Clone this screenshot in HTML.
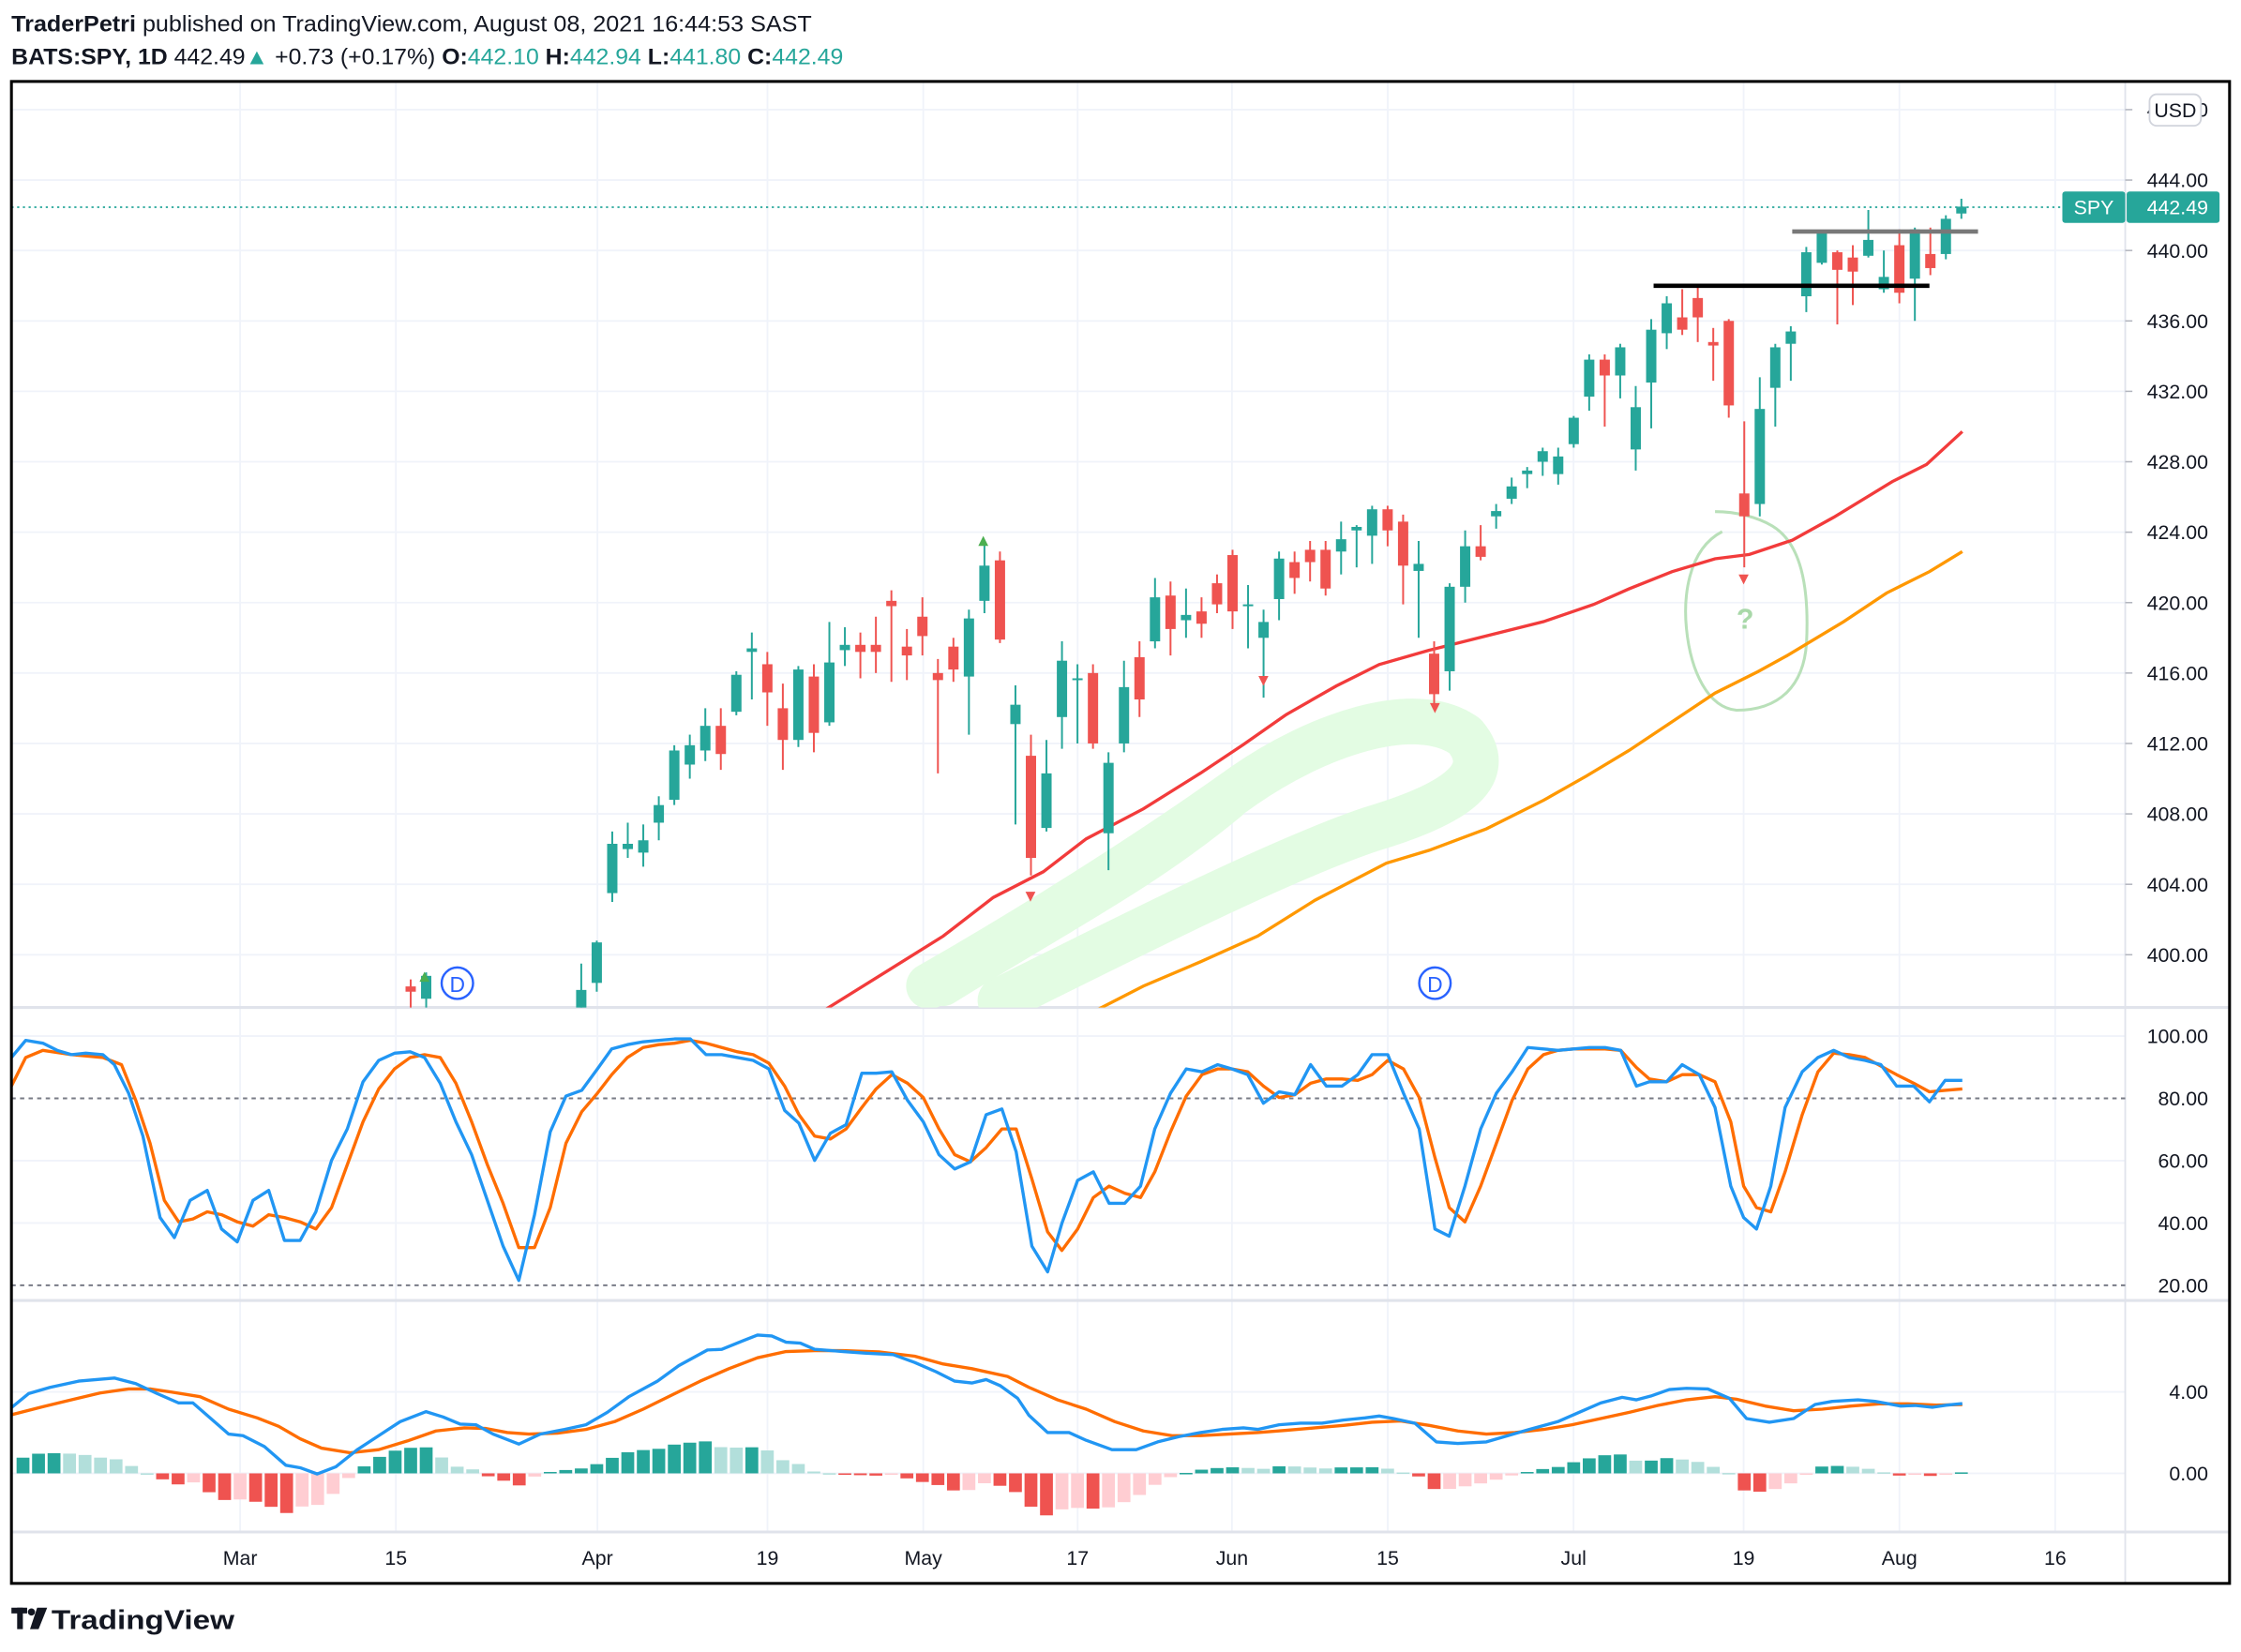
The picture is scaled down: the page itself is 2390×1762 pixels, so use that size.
<!DOCTYPE html>
<html><head><meta charset="utf-8"><style>
html,body{margin:0;padding:0;background:#fff;}
svg{display:block;}
text{font-family:"Liberation Sans",sans-serif;}
</style></head><body>
<svg id="s" width="2390" height="1762" viewBox="0 0 1568 1156" preserveAspectRatio="none" xmlns="http://www.w3.org/2000/svg">
<rect width="1568" height="1156" fill="#fff"/>
<text x="8" y="22" font-size="15.5" fill="#131722" textLength="560" lengthAdjust="spacingAndGlyphs"><tspan font-weight="bold">TraderPetri</tspan> published on TradingView.com, August 08, 2021 16:44:53 SAST</text>
<text x="8" y="45" font-size="15.5" fill="#131722" textLength="582" lengthAdjust="spacingAndGlyphs"><tspan font-weight="bold">BATS:SPY, 1D</tspan> 442.49<tspan fill="#26a69a">▲</tspan> +0.73 (+0.17%) <tspan font-weight="bold">O:</tspan><tspan fill="#26a69a">442.10</tspan> <tspan font-weight="bold">H:</tspan><tspan fill="#26a69a">442.94</tspan> <tspan font-weight="bold">L:</tspan><tspan fill="#26a69a">441.80</tspan> <tspan font-weight="bold">C:</tspan><tspan fill="#26a69a">442.49</tspan></text>
<g id="grid"></g>
<g id="main"></g>
<g id="axis"></g>
<rect x="8" y="57" width="1552" height="1051" fill="none" stroke="#000" stroke-width="2"/>
<!-- logo -->
<g fill="#131722"><rect x="8" y="1125" width="11" height="4"/><rect x="12" y="1125" width="4" height="15"/><circle cx="22" cy="1128" r="2.5"/><polygon points="26,1125 33,1125 27,1140 21,1140"/></g>
<text x="36" y="1140" font-size="19" font-weight="bold" fill="#131722" textLength="128" lengthAdjust="spacingAndGlyphs">TradingView</text>
</svg>
<script>
const NS="http://www.w3.org/2000/svg";
function el(p,t,a,txt){const e=document.createElementNS(NS,t);for(const k in a)e.setAttribute(k,a[k]);if(txt!==undefined)e.textContent=txt;p.appendChild(e);return e;}
const G=document.getElementById('grid'),M=document.getElementById('main'),A=document.getElementById('axis');
const X=i=>168+i*10.85, PY=p=>126+(444-p)*12.32, SY=v=>725+(100-v)*2.18;
// grids
[277,418,537,646,754,862,971,1101,1220,1329,1438,168].forEach(x=>el(G,'line',{x1:x,y1:58,x2:x,y2:1072,stroke:'#f0f3fa','stroke-width':1.2}));
for(let p=400;p<=448;p+=4)el(G,'line',{x1:8,y1:PY(p),x2:1487,y2:PY(p),stroke:'#f0f3fa','stroke-width':1.2});
[100,60,40].forEach(v=>el(G,'line',{x1:8,y1:SY(v),x2:1487,y2:SY(v),stroke:'#f0f3fa','stroke-width':1.2}));
[974,1031].forEach(y=>el(G,'line',{x1:8,y1:y,x2:1487,y2:y,stroke:'#f0f3fa','stroke-width':1.2}));
[705,910,1072].forEach(y=>el(G,'line',{x1:8,y1:y,x2:1560,y2:y,stroke:'#e0e3eb','stroke-width':2}));
el(G,'line',{x1:1487,y1:58,x2:1487,y2:1108,stroke:'#e0e3eb','stroke-width':1.2});
[80,20].forEach(v=>el(G,'line',{x1:8,y1:SY(v),x2:1487,y2:SY(v),stroke:'#787b86','stroke-width':1.3,'stroke-dasharray':'3,3'}));
// clip for main pane
const defs=el(M,'defs',{});const cp=el(defs,'clipPath',{id:'cm'});el(cp,'rect',{x:8,y:58,width:1479,height:647});
const cp2=el(defs,'clipPath',{id:'cs'});el(cp2,'rect',{x:8,y:706,width:1479,height:204});
const cp3=el(defs,'clipPath',{id:'cc'});el(cp3,'rect',{x:8,y:911,width:1479,height:161});
const MG=el(M,'g',{'clip-path':'url(#cm)'});
// green brush
el(MG,'path',{d:'M650,690 C720,650 800,600 870,550 C920,515 990,490 1025,515 C1050,545 1010,565 960,580 C900,600 800,650 700,700',fill:'none',stroke:'#e3fce3','stroke-width':32,'stroke-linecap':'round','stroke-linejoin':'round'});
el(MG,'path',{d:'M660,690 C740,640 800,610 860,560',fill:'none',stroke:'#e3fce3','stroke-width':28,'stroke-linecap':'round'});
// circle
el(MG,'path',{d:'M1205,372 C1180,385 1178,420 1180,440 C1183,470 1195,495 1215,497 C1245,497 1262,480 1264,450 C1266,410 1260,380 1240,368 C1230,362 1215,358 1200,358',fill:'none',stroke:'#b9e0b9','stroke-width':2});
el(MG,'text',{x:1215,y:440,'font-size':20,'font-weight':'bold',fill:'#a8d8a8'},'?');
// MAs
const ema=[[575,708],[620,680],[660,655],[695,628],[730,610],[760,587],[800,566],[840,541],[870,521],[900,500],[935,480],[965,465],[1000,455],[1040,445],[1080,435],[1115,423],[1140,412],[1170,400],[1200,391],[1224,388],[1254,378],[1283,362],[1324,337],[1348,325],[1373,302]];
const sma=[[765,708],[800,690],[840,673],[880,655],[920,630],[970,604],[1000,595],[1040,580],[1080,560],[1110,543],[1140,525],[1170,505],[1200,485],[1230,470],[1250,459],[1290,435],[1320,415],[1350,400],[1373,386]];
const pl=a=>a.map(p=>p.join(',')).join(' ');
el(MG,'polyline',{points:pl(ema),fill:'none',stroke:'#f23b3b','stroke-width':2.2});
el(MG,'polyline',{points:pl(sma),fill:'none',stroke:'#ff9800','stroke-width':2.2});
// candles [i,o,h,l,c]
const C=[[11,398.2,398.6,396,397.9],[12,397.5,399,396.5,398.8],[22,396,399.5,395,398],
[23,398.4,400.8,397.9,400.7],[24,403.5,407,403,406.3],[25,406,407.5,405.5,406.3],[26,405.8,407.4,405,406.5],[27,407.5,409,406.5,408.5],[28,408.8,411.9,408.5,411.6],
[29,410.8,412.5,410,411.9],[30,411.6,414,411,413],[31,413,414,410.5,411.4],[32,413.8,416.1,413.6,415.9],[33,417.2,418.3,414.5,417.4],
[34,416.5,417.2,413,414.9],[35,414,415.4,410.5,412.2],[36,412.2,416.4,411.8,416.2],[37,415.8,416.5,411.5,412.6],[38,413.2,418.9,413,416.6],
[39,417.3,418.6,416.4,417.6],[40,417.6,418.3,415.7,417.2],[41,417.6,419.2,416,417.2],[42,420.1,420.7,415.5,419.8],[43,417.5,418.5,415.6,417],
[44,419.2,420.3,417,418.1],[45,416,416.8,410.3,415.6],[46,417.5,418,415.5,416.2],[47,415.8,419.6,412.5,419.1],[48,420.1,423.4,419.4,422.1],
[49,422.4,422.9,417.7,417.9],[50,413.1,415.3,407.4,414.2],[51,411.3,412.5,404.5,405.5],[52,407.2,412.2,407,410.3],[53,413.5,417.8,411.7,416.7],
[54,415.6,416.5,412,415.7],[55,416,416.5,411.7,412],[56,406.9,411.5,404.8,410.9],[57,412,416.7,411.5,415.2],[58,416.9,417.8,413.5,414.5],
[59,417.8,421.4,417.4,420.3],[60,420.4,421.2,417,418.5],[61,419,420.8,418,419.3],[62,419.5,420.3,418,418.8],[63,421.1,421.6,419.4,419.9],
[64,422.7,423,418.5,419.5],[65,419.8,421,417.4,419.9],[66,418,419.6,414.6,418.9],[67,420.2,422.9,419,422.5],
[68,422.3,422.9,420.5,421.4],[69,423,423.5,421.2,422.3],[70,423,423.5,420.4,420.8],[71,422.9,424.6,421.6,423.6],[72,424.1,424.4,422,424.3],
[73,423.8,425.5,422.2,425.3],[74,425.3,425.5,423.2,424.1],[75,424.6,425,419.9,422.1],[76,421.8,423.5,418,422.2],[77,417.1,417.8,414.2,414.8],
[78,416.1,421.1,415,420.9],[79,420.9,424.1,420,423.2],[80,423.2,424.4,422.4,422.6],[81,424.9,425.6,424.2,425.2],[82,425.9,427.1,425.6,426.6],
[83,427.3,427.7,426.5,427.5],[84,428,428.8,427.2,428.6],[85,427.3,428.8,426.7,428.3],
[86,429,430.6,428.8,430.5],[87,431.7,434.1,430.9,433.8],[88,433.8,434.1,430,432.9],[89,432.9,434.7,431.6,434.5],[90,428.7,432.3,427.5,431.1],[91,432.5,436.1,429.9,435.5],
[92,435.3,437.4,434.4,437],[93,436.2,437.8,435.2,435.5],[94,437.3,438,434.8,436.2],[95,434.8,435.6,432.6,434.6],[96,436,436.1,430.5,431.2],
[97,426.2,430.3,422,424.9],[98,425.6,432.8,424.9,431],[99,432.2,434.7,430,434.5],[100,434.7,435.7,432.6,435.4],[101,437.4,440.2,436.5,439.9],
[102,439.3,441,439.2,441],[103,439.9,440,435.8,438.9],[104,439.6,440.3,436.9,438.8],[105,439.7,442.3,439.6,440.6],[106,437.8,440,437.6,438.5],
[107,440.3,441.2,437,437.6],[108,438.4,441.3,436,441.2],[109,439.8,441.3,438.6,439],[110,439.8,442,439.5,441.8],[111,442.1,442.94,441.8,442.49]];
C.forEach(([i,o,h,l,c])=>{const x=X(i),col=c>=o?'#26a69a':'#ef5350';
el(MG,'line',{x1:x,y1:PY(h),x2:x,y2:PY(l),stroke:col,'stroke-width':1.3});
const y1=PY(Math.max(o,c)),y2=PY(Math.min(o,c));el(MG,'rect',{x:x-3.6,y:y1,width:7.2,height:Math.max(1.3,y2-y1),fill:col});});
// lines
el(MG,'line',{x1:1157,y1:200,x2:1350,y2:200,stroke:'#000','stroke-width':3});
el(MG,'line',{x1:1254,y1:162,x2:1384,y2:162,stroke:'#787878','stroke-width':3});
el(MG,'line',{x1:8,y1:145,x2:1487,y2:145,stroke:'#26a69a','stroke-width':1.2,'stroke-dasharray':'1.5,2.5'});
// markers
[[297,683],[688,378]].forEach(([x,y])=>el(MG,'polygon',{points:`${x-3.5},${y+4} ${x+3.5},${y+4} ${x},${y-3}`,fill:'#4caf50'}));
[[721,627],[884,476],[1004,495],[1220,405]].forEach(([x,y])=>el(MG,'polygon',{points:`${x-3.5},${y-3} ${x+3.5},${y-3} ${x},${y+4}`,fill:'#ef5350'}));
[320,1004].forEach(x=>{el(MG,'circle',{cx:x,cy:688,r:11,fill:'#fff',stroke:'#2962ff','stroke-width':1.6});el(MG,'text',{x:x,y:694,'font-size':15,'text-anchor':'middle',fill:'#2962ff'},'D');});
// stoch
const K=[[8,740],[18,728],[30,730],[40,735],[50,738],[60,737],[72,738],[80,745],[90,765],[100,795],[112,852],[122,866],[133,840],[145,833],[155,860],[166,869],[177,840],[188,833],[199,868],[210,868],[221,848],[232,812],[243,790],[254,757],[265,742],[276,737],[287,736],[297,740],[308,758],[319,785],[330,808],[341,840],[352,872],[363,896],[374,850],[385,792],[396,767],[407,763],[418,748],[428,734],[439,731],[450,729],[461,728],[472,727],[483,727],[494,738],[505,738],[516,740],[527,742],[538,748],[549,777],[559,786],[570,812],[581,793],[592,787],[603,751],[613,751],[624,750],[635,770],[646,785],[657,808],[668,818],[679,813],[690,780],[701,776],[711,806],[722,872],[733,890],[743,856],[754,826],[765,820],[776,842],[787,842],[798,830],[808,790],[819,765],[830,748],[841,750],[852,745],[862,748],[873,752],[884,772],[895,764],[906,766],[917,745],[928,760],[939,760],[950,752],[960,738],[971,738],[982,765],[993,790],[1004,860],[1014,865],[1025,830],[1036,790],[1047,765],[1058,750],[1069,733],[1080,734],[1090,735],[1101,734],[1112,733],[1123,733],[1134,735],[1145,760],[1154,757],[1166,757],[1177,745],[1189,752],[1200,775],[1211,830],[1220,852],[1229,860],[1239,830],[1249,775],[1261,750],[1272,740],[1283,735],[1294,740],[1305,742],[1316,745],[1327,760],[1339,760],[1350,771],[1361,756],[1373,756]];
const D=[[8,760],[18,740],[30,735],[50,738],[72,740],[85,745],[95,770],[105,800],[115,840],[125,855],[135,853],[145,848],[155,850],[166,855],[177,858],[188,850],[199,852],[210,855],[221,860],[232,845],[243,815],[254,785],[265,762],[276,748],[287,740],[297,738],[308,740],[319,758],[330,785],[341,815],[352,842],[363,873],[374,873],[385,845],[396,800],[407,778],[418,765],[428,752],[439,740],[450,733],[461,731],[472,730],[483,728],[494,730],[505,733],[516,736],[527,738],[538,744],[549,760],[559,780],[570,795],[581,797],[592,790],[603,775],[613,762],[624,752],[635,758],[646,768],[657,790],[668,808],[679,813],[690,803],[701,790],[711,790],[722,825],[733,862],[743,875],[754,860],[765,838],[776,830],[787,835],[798,838],[808,820],[819,792],[830,767],[841,752],[852,748],[862,748],[873,750],[884,760],[895,768],[906,766],[917,758],[928,755],[939,755],[950,756],[960,752],[971,742],[982,748],[993,768],[1004,810],[1014,845],[1025,855],[1036,830],[1047,800],[1058,770],[1069,748],[1080,738],[1090,735],[1101,734],[1112,734],[1123,734],[1134,735],[1145,747],[1154,755],[1166,757],[1177,752],[1189,752],[1200,757],[1211,785],[1220,830],[1229,845],[1239,848],[1249,820],[1261,780],[1272,750],[1283,737],[1294,738],[1305,740],[1316,746],[1327,752],[1339,758],[1350,764],[1361,763],[1373,762]];
const SG=el(M,'g',{'clip-path':'url(#cs)'});
el(SG,'polyline',{points:pl(D),fill:'none',stroke:'#ff6d00','stroke-width':2.2,'stroke-linejoin':'round'});
el(SG,'polyline',{points:pl(K),fill:'none',stroke:'#2196f3','stroke-width':2.2,'stroke-linejoin':'round'});
// macd
const cv=a=>a.map(([x,y])=>[x,885.8+y*0.218]);
const MB=cv([[8,455],[20,410],[35,390],[55,370],[80,360],[95,378],[110,410],[125,440],[135,440],[160,540],[170,545],[185,580],[200,640],[210,648],[222,668],[235,645],[250,590],[265,545],[280,500],[298,468],[310,485],[322,508],[333,510],[345,540],[363,572],[378,540],[395,525],[410,510],[425,470],[440,420],[460,370],[475,320],[495,270],[505,268],[520,240],[530,222],[540,225],[550,245],[560,248],[570,268],[590,275],[605,280],[625,285],[640,310],[655,340],[668,370],[680,376],[690,365],[700,385],[712,425],[720,480],[733,535],[748,535],[760,560],[778,590],[795,590],[810,565],[825,548],[840,535],[855,525],[870,520],[880,525],[895,510],[910,505],[925,505],[940,495],[955,488],[965,482],[975,490],[990,505],[1005,565],[1020,570],[1040,565],[1055,545],[1070,525],[1090,500],[1105,470],[1120,440],[1135,422],[1145,430],[1155,418],[1168,397],[1180,393],[1195,395],[1210,425],[1222,490],[1238,502],[1255,490],[1270,445],[1282,435],[1300,430],[1312,435],[1330,450],[1340,448],[1352,454],[1362,447],[1373,442]]);
const MO=cv([[8,478],[30,452],[50,430],[70,408],[90,395],[105,395],[120,405],[140,420],[160,460],[180,488],[195,515],[210,555],[225,585],[245,600],[265,590],[285,562],[305,530],[325,520],[340,522],[355,535],[370,540],[390,537],[410,525],[430,500],[450,460],[470,415],[490,370],[510,330],[530,295],[550,275],[570,272],[590,272],[615,276],[640,290],[660,315],[680,330],[705,355],[720,390],[740,430],[760,460],[780,500],[800,530],[820,545],[840,545],[860,540],[880,535],[900,528],[920,520],[940,512],[960,502],[980,498],[1000,512],[1020,530],[1040,540],[1060,535],[1080,525],[1100,510],[1120,490],[1140,470],[1160,448],[1180,430],[1200,420],[1215,428],[1235,450],[1255,465],[1275,460],[1295,450],[1315,443],[1335,443],[1355,447],[1373,445]]);
function interp(a,x){for(let k=0;k<a.length-1;k++){if(x>=a[k][0]&&x<=a[k+1][0]){const t=(x-a[k][0])/(a[k+1][0]-a[k][0]);return a[k][1]+t*(a[k+1][1]-a[k][1]);}}return x<a[0][0]?a[0][1]:a[a.length-1][1];}
const CG=el(M,'g',{'clip-path':'url(#cc)'});
let prev=null;
for(let i=-14;i<=111;i++){const x=X(i);const h=(interp(MO,x)-interp(MB,x))*1.15;let col;
if(h>=0)col=(prev===null||h>=prev)?'#26a69a':'#b2dfdb';else col=(prev===null||h<=prev)?'#ef5350':'#ffcdd2';
prev=h;const y=h>=0?1031-h:1031;el(CG,'rect',{x:x-4.5,y:y,width:9,height:Math.max(1,Math.abs(h)),fill:col});}
el(CG,'polyline',{points:pl(MO),fill:'none',stroke:'#ff6d00','stroke-width':2.2,'stroke-linejoin':'round'});
el(CG,'polyline',{points:pl(MB),fill:'none',stroke:'#2196f3','stroke-width':2.2,'stroke-linejoin':'round'});
// axis labels
for(let p=400;p<=448;p+=4){el(A,'line',{x1:1487,y1:PY(p),x2:1492,y2:PY(p),stroke:'#b2b5be'});el(A,'text',{x:1545,y:PY(p)+5,'font-size':14,'text-anchor':'end',fill:'#131722'},p.toFixed(2));}
[100,80,60,40,20].forEach(v=>el(A,'text',{x:1545,y:SY(v)+5,'font-size':14,'text-anchor':'end',fill:'#131722'},v.toFixed(2)));
el(A,'text',{x:1545,y:979,'font-size':14,'text-anchor':'end',fill:'#131722'},'4.00');
el(A,'text',{x:1545,y:1036,'font-size':14,'text-anchor':'end',fill:'#131722'},'0.00');
el(A,'rect',{x:1504,y:66,width:36,height:22,rx:5,fill:'#fff',stroke:'#d1d4dc','stroke-width':1.2});
el(A,'text',{x:1522,y:82,'font-size':14,'text-anchor':'middle',fill:'#131722'},'USD');
el(A,'rect',{x:1443,y:134,width:44,height:22,rx:2,fill:'#26a69a'});
el(A,'text',{x:1465,y:150,'font-size':14,'text-anchor':'middle',fill:'#fff'},'SPY');
el(A,'rect',{x:1488,y:134,width:65,height:22,rx:2,fill:'#26a69a'});
el(A,'text',{x:1545,y:150,'font-size':14,'text-anchor':'end',fill:'#fff'},'442.49');
[['Mar',168],['15',277],['Apr',418],['19',537],['May',646],['17',754],['Jun',862],['15',971],['Jul',1101],['19',1220],['Aug',1329],['16',1438]].forEach(([t,x])=>el(A,'text',{x:x,y:1095,'font-size':14,'text-anchor':'middle',fill:'#131722'},t));
</script>
</body></html>
